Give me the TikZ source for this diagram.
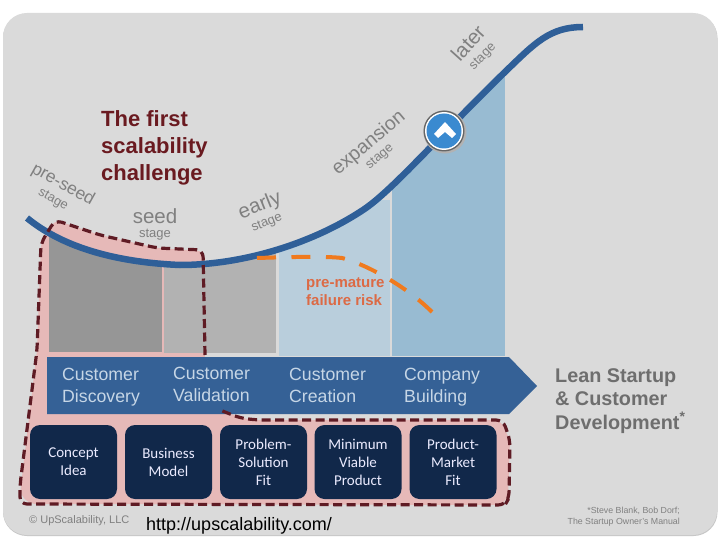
\documentclass[tikz,border=0pt]{standalone}
\usepackage{fontspec}
\setmainfont{Liberation Sans}
\newfontfamily\boxfont{Carlito}
\definecolor{panelbg}{HTML}{DADADA}
\definecolor{pinkzone}{HTML}{E6B9B8}
\definecolor{curveblue}{HTML}{2F5F98}
\definecolor{bandblue}{HTML}{356196}
\definecolor{bandtext}{HTML}{C6D6E6}
\definecolor{boxnavy}{HTML}{11284A}
\definecolor{darkred}{HTML}{5F1B24}
\definecolor{titlered}{HTML}{6A1A20}
\definecolor{riskorange}{HTML}{F07A1E}
\definecolor{risktext}{HTML}{DC6A45}
\definecolor{stagegray}{HTML}{808080}
\definecolor{leangray}{HTML}{6E6E6E}
\definecolor{collight}{HTML}{B9CEDC}
\definecolor{colblue}{HTML}{98BBD2}
\definecolor{markblue}{HTML}{3A8AD0}
\tikzset{
  stagebig/.style={text=stagegray,font=\fontsize{20.5}{20.5}\selectfont,inner sep=0pt},
  stagesmall/.style={text=stagegray,font=\fontsize{13}{13}\selectfont,inner sep=0pt},
  navybox/.style={fill=boxnavy,rounded corners=10pt,minimum width=87pt,minimum height=74pt,inner sep=0pt,
    text=white!92!blue,align=center,font=\boxfont\fontsize{15}{18}\selectfont},
  bandlabel/.style={text=bandtext,align=left,anchor=north west,inner sep=0pt,font=\fontsize{17.7}{22}\selectfont},
  zonedash/.style={draw=darkred,line width=3.2pt,dash pattern=on 9pt off 4.5pt},
}
\newcommand{\growthcurve}{(27,218) .. controls (60,245) and (110,262) .. (180,265) .. controls (240,265) and (310,245) .. (363,210) .. controls (392,191) and (440,135) .. (507,70) .. controls (535,43) and (550,27) .. (583,27)}
\begin{document}
\begin{tikzpicture}[x=1pt,y=-1pt]
\useasboundingbox (0,0) rectangle (720,540);
\fill[white] (0,0) rectangle (720,540);
\fill[black!22,rounded corners=24pt] (3,14) rectangle (717.5,536);
\fill[panelbg,rounded corners=24pt] (3,13) rectangle (717,535);
% pink zone
\fill[pinkzone,rounded corners=6pt] (55,220) -- (100,235) -- (157,248) -- (203,251) -- (205,357) -- (205,400)
  -- (222,411) -- (250,420) -- (500,420) -- (510,440) -- (508,498) -- (500,505) -- (30,504) -- (20,494) -- (37,350) -- (41,243) -- cycle;
% columns under the curve
\begin{scope}
\clip \growthcurve -- (583,400) -- (27,400) -- cycle;
\fill[black!41] (49,200) rectangle (162,352);
\fill[black!30] (164,200) rectangle (276,353);
\fill[collight] (279,200) rectangle (390,356);
\fill[colblue] (392,30) rectangle (505,356);
\end{scope}
\draw[curveblue,line width=6.5pt] \growthcurve;
% risk
\draw[riskorange,line width=4pt,dash pattern=on 19pt off 15.5pt] (257,258) .. controls (290,257) and (325,256) .. (342,258) .. controls (365,264) and (405,285) .. (432,312);
% band
\fill[bandblue] (47,357) -- (509,357) -- (537,386) -- (509,414) -- (47,414) -- cycle;
\node[bandlabel] (cd) at (62,368) {Customer\\Discovery};
\node[bandlabel] (cv) at (173,367) {Customer\\Validation};
\node[bandlabel] (cc) at (289,368) {Customer\\Creation};
\node[bandlabel] (cb) at (404,368) {Company\\Building};
% dashed outline
\draw[zonedash,rounded corners=7pt] (205,355) -- (203,250) -- (157,248) -- (100,235) -- (55,220) -- (41,243) -- (37,350) -- (20,485) -- (20,504) -- (505,505) -- (509,498) -- (510,440) -- (503,420) -- (257,420) -- (240,418) -- (220,410);
% navy boxes
\node[navybox] (b1) at (73.5,462) {\raisebox{-2pt}{Concept}\\\raisebox{-2pt}{Idea}};
\node[navybox] (b2) at (168.5,462) {\raisebox{-2pt}{Business}\\\raisebox{-2pt}{Model}};
\node[navybox] (b3) at (263.5,462) {\raisebox{-2pt}{Problem-}\\\raisebox{-2pt}{Solution}\\\raisebox{-2pt}{Fit}};
\node[navybox] (b4) at (358,462) {\raisebox{-2pt}{Minimum}\\\raisebox{-2pt}{Viable}\\\raisebox{-2pt}{Product}};
\node[navybox] (b5) at (453,462) {\raisebox{-2pt}{Product-}\\\raisebox{-2pt}{Market}\\\raisebox{-2pt}{Fit}};
% milestone
\fill[black!30] (445,132) circle (21.5);
\fill[black!60] (444,131) circle (20.5);
\fill[white] (444,131) circle (19);
\node[circle,fill=markblue,minimum size=35pt,inner sep=0pt] (mark) at (444,131) {};
\fill[white] (445,122) -- (456,134) -- (452,138) -- (445,132) -- (438,138) -- (434,134) -- cycle;
% titles
\node[anchor=north west,inner sep=0pt,align=left,text=titlered,font=\bfseries\fontsize{22}{27}\selectfont] (title) at (101,110) {The first\\scalability\\challenge};
\node[anchor=north west,inner sep=0pt,align=left,text=risktext,font=\bfseries\fontsize{15}{17.5}\selectfont] (risk) at (306,278) {pre-mature\\failure risk};
% stage labels
\node[stagebig,font=\fontsize{17.5}{17.5}\selectfont,rotate=-29] (s1) at (63,185) {pre-seed};
\node[stagesmall,rotate=-29] (s1b) at (53,200) {stage};
\node[stagebig] (s2) at (155,216) {seed};
\node[stagesmall] (s2b) at (155,235) {stage};
\node[stagebig,rotate=22] (s3) at (260,206) {early};
\node[stagesmall,rotate=22] (s3b) at (267,223) {stage};
\node[stagebig,font=\fontsize{19.5}{19.5}\selectfont,rotate=40] (s4) at (369,143) {expansion};
\node[stagesmall,rotate=40] (s4b) at (380,157) {stage};
\node[stagebig,rotate=48] (s5) at (468,43) {later};
\node[stagesmall,rotate=45] (s5b) at (483,57) {stage};
% right
\node[anchor=north west,inner sep=0pt,align=left,text=leangray,font=\bfseries\fontsize{19.8}{23.5}\selectfont] (lean) at (555,368) {Lean Startup\\\& Customer\\Development\textsuperscript{*}};
\node[anchor=north east,inner sep=0pt,align=right,text=stagegray,font=\fontsize{8.8}{11}\selectfont] (cite) at (680,507) {*Steve Blank, Bob Dorf;\\The Startup Owner's Manual};
\node[anchor=west,inner sep=0pt,text=stagegray,font=\fontsize{11}{11}\selectfont] (copy) at (29,521) {© UpScalability, LLC};
\node[anchor=west,inner sep=0pt,text=black,font=\fontsize{18}{18}\selectfont] (url) at (146,526) {http://upscalability.com/};
\end{tikzpicture}
\end{document}
